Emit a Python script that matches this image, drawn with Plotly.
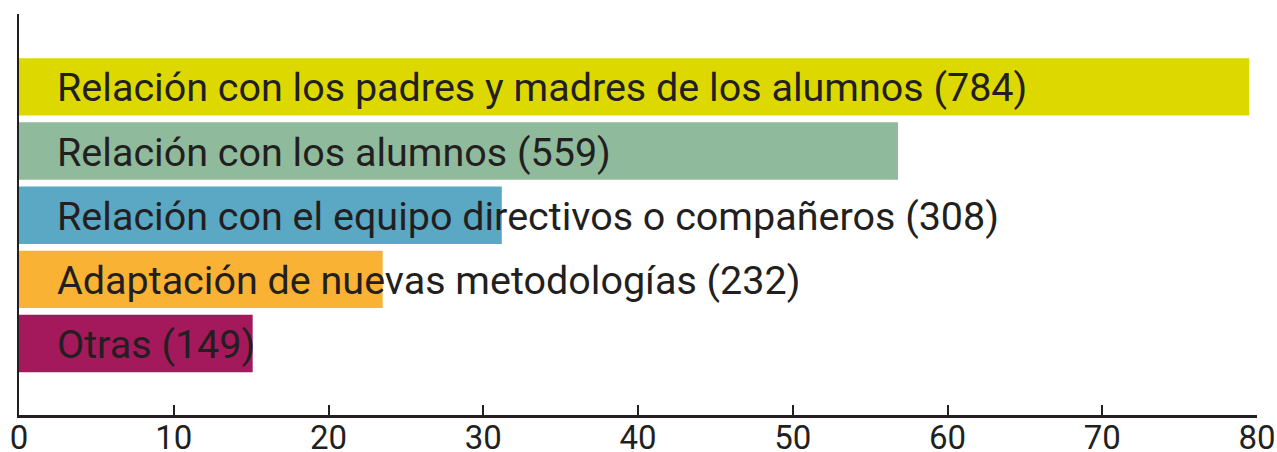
import plotly.graph_objects as go

categories = [
    "Relación con los padres y madres de los alumnos",
    "Relación con los alumnos",
    "Relación con el equipo directivos o compañeros",
    "Adaptación de nuevas metodologías",
    "Otras",
]
counts = [784, 559, 308, 232, 149]
percent = [79.5, 56.8, 31.2, 23.5, 15.1]
colors = ["#DDD900", "#8FBA9C", "#5BA8C4", "#F9B233", "#A3195B"]
x_ticks = [0, 10, 20, 30, 40, 50, 60, 70, 80]

n = len(categories)
ypos = [n - 1 - i for i in range(n)]

fig = go.Figure()
fig.add_trace(go.Bar(
    x=percent, y=ypos, orientation="h",
    marker=dict(color=colors, line=dict(width=0)),
    width=0.895, hoverinfo="skip",
))

for cat, c, y in zip(categories, counts, ypos):
    fig.add_annotation(
        x=0, y=y, xref="x", yref="y", text=f"{cat} ({c})",
        showarrow=False, xanchor="left", yanchor="middle", xshift=36, yshift=-1,
        font=dict(family="Roboto", size=39.5, color="#231F20"),
    )

fig.update_layout(
    width=1277, height=452,
    margin=dict(l=19, r=20, t=14, b=37),
    paper_bgcolor="white", plot_bgcolor="white",
    showlegend=False,
    xaxis=dict(
        range=[0, 80], tickvals=x_ticks, ticktext=[str(v) for v in x_ticks],
        ticks="inside", ticklen=10, tickwidth=2, tickcolor="#231F20",
        showline=True, linecolor="#231F20", linewidth=3,
        showgrid=False, zeroline=False, automargin=False,
        ticklabelstandoff=-9,
        tickfont=dict(family="Roboto", size=33, color="#231F20"),
    ),
    yaxis=dict(
        range=[-1.113, 5.136], showticklabels=False, ticks="",
        showline=True, linecolor="#231F20", linewidth=2,
        showgrid=False, zeroline=False, automargin=False,
    ),
)

fig.write_html(
    "out.html",
    config={"displayModeBar": False},
    post_script="document.body.style.margin='0';document.body.style.overflow='hidden';",
)
